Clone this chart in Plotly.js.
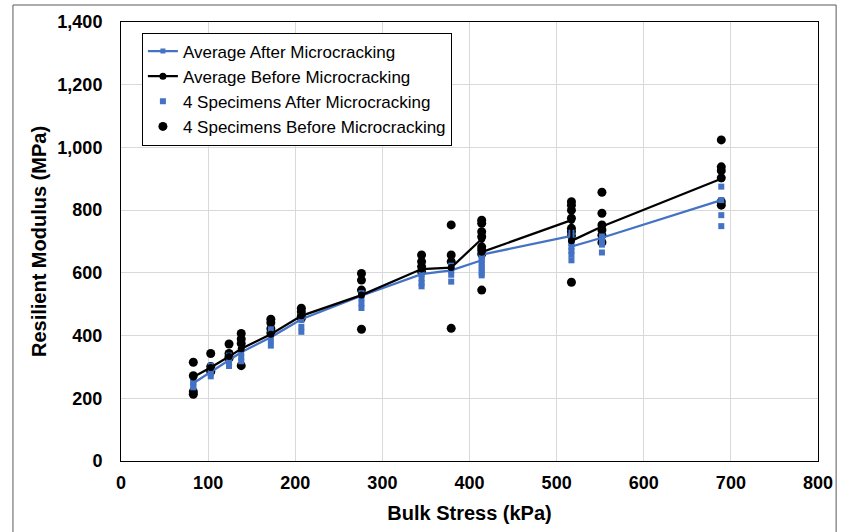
<!DOCTYPE html>
<html>
<head>
<meta charset="utf-8">
<script src="https://cdn.plot.ly/plotly-3.0.1.min.js"></script>
<style>html,body{margin:0;padding:0;background:#fff;}#chart{width:841px;height:532px;}</style>
</head>
<body>
<div id="chart"></div>
<script>
// Bulk stress (kPa) for the averaged test sequences
const stress = [83, 103, 124, 138, 172, 207, 276, 345, 379, 414, 414, 517, 517, 552, 689];
const avgAfter = [248, 285, 322, 347, 395, 452, 527, 596, 608, 640, 658, 718, 684, 712, 832];
const avgBefore = [268, 298, 333, 358, 404, 463, 529, 612, 617, 708, 666, 768, 702, 748, 900];

// Individual specimens (before microcracking)
const specStressBefore = [83,83,83,83, 103,103,103,103, 124,124,124,124, 138,138,138,138,
  172,172,172,172, 207,207,207,207, 276,276,276,276, 345,345,345,345, 379,379,379,379,
  414,414,414,414,414,414,414,414, 517,517,517,517,517,517,517,517, 552,552,552,552,552,552,
  689,689,689,689,689,689];
const specBefore = [315,272,221,213, 343,301,290,285, 373,343,333,328, 407,389,375,304,
  452,441,422,408, 487,476,462,455, 598,577,545,420, 657,636,620,604, 753,657,636,423,
  768,758,731,715,683,673,660,545, 827,816,800,774,742,731,718,570, 857,790,753,737,720,697,
  1024,938,926,903,827,816];

// Individual specimens (after microcracking)
const specStressAfter = [83,83,83,83, 103,103,103,103, 124,124,124,124, 138,138,138,138,
  172,172,172,172, 207,207,207,207, 276,276,276,276, 345,345,345,345, 379,379,379,379,
  414,414,414,414,414,414,414,414, 517,517,517,517,517,517,517,517, 552,552,552,552,
  689,689,689,689];
const specAfter = [262,252,243,235, 304,292,280,270, 336,325,313,303, 357,345,330,318,
  420,405,385,368, 462,450,428,412, 535,520,503,488, 596,582,568,557, 623,608,594,572,
  660,650,640,630,620,610,600,592, 728,718,705,695,683,670,658,640, 716,703,690,665,
  875,832,784,749];

const BLUE = '#4472C4';
const FONT = 'Liberation Sans, Arial, sans-serif';

const traces = [
  {x: specStressBefore, y: specBefore, type: 'scatter', mode: 'markers', name: '4 Specimens Before Microcracking',
   marker: {symbol: 'circle', size: 9, color: '#000'}, legendrank: 4},
  {x: specStressAfter, y: specAfter, type: 'scatter', mode: 'markers', name: '4 Specimens After Microcracking',
   marker: {symbol: 'square', size: 6, color: BLUE}, legendrank: 3},
  {x: stress, y: avgAfter, type: 'scatter', mode: 'lines+markers', name: 'Average After Microcracking',
   line: {color: BLUE, width: 2.25}, marker: {symbol: 'square', size: 5, color: BLUE}, legendrank: 1},
  {x: stress, y: avgBefore, type: 'scatter', mode: 'lines+markers', name: 'Average Before Microcracking',
   line: {color: '#000', width: 2.25}, marker: {symbol: 'circle', size: 7, color: '#000'}, legendrank: 2}
];

const layout = {
  width: 841, height: 532,
  margin: {l: 121, r: 23, t: 22, b: 71},
  paper_bgcolor: '#fff', plot_bgcolor: '#fff',
  font: {family: FONT, color: '#000'},
  showlegend: true,
  legend: {
    x: 0.03, y: 0.976, xanchor: 'left', yanchor: 'top',
    bgcolor: '#fff', bordercolor: '#000', borderwidth: 1,
    font: {family: FONT, size: 17, color: '#000'}
  },
  xaxis: {
    range: [0, 800], dtick: 100, tick0: 0,
    showgrid: true, gridcolor: '#d9d9d9', gridwidth: 1,
    zeroline: false, showline: true, linecolor: '#000', linewidth: 1, mirror: true,
    ticks: '', ticklabelstandoff: 5,
    tickfont: {family: FONT, size: 18, color: '#000', weight: 'bold'},
    title: {text: '<b>Bulk Stress (kPa)</b>', font: {family: FONT, size: 20, color: '#000'}, standoff: 14}
  },
  yaxis: {
    range: [0, 1400], dtick: 200, tick0: 0,
    showgrid: true, gridcolor: '#d9d9d9', gridwidth: 1,
    zeroline: false, showline: true, linecolor: '#000', linewidth: 1, mirror: true,
    ticks: '', tickformat: ',d', ticklabelstandoff: 14,
    tickfont: {family: FONT, size: 18, color: '#000', weight: 'bold'},
    title: {text: '<b>Resilient Modulus (MPa)</b>', font: {family: FONT, size: 20, color: '#000'}, standoff: 5}
  },
  shapes: [
    {type: 'rect', xref: 'paper', yref: 'paper', x0: -0.155, x1: 1.026, y0: -0.2, y1: 1.0387,
     line: {color: '#595959', width: 1}, fillcolor: 'rgba(0,0,0,0)', layer: 'below'}
  ]
};

Plotly.newPlot('chart', traces, layout, {staticPlot: true, displayModeBar: false});
</script>
</body>
</html>
